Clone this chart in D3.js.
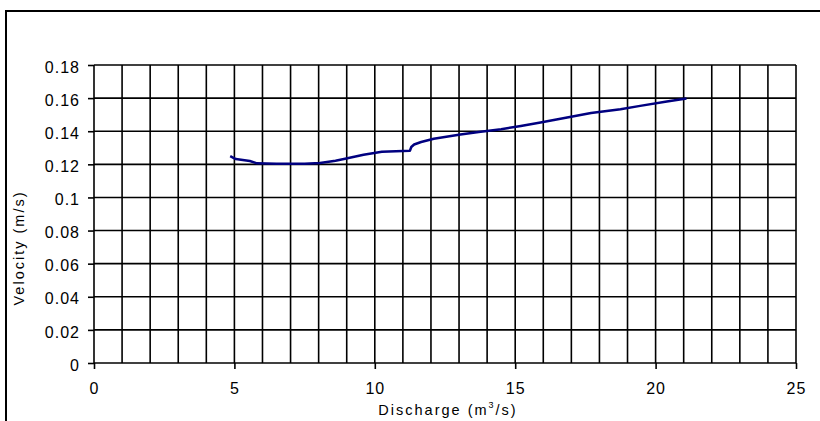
<!DOCTYPE html>
<html>
<head>
<meta charset="utf-8">
<script src="https://cdn.jsdelivr.net/npm/d3@7"></script>
<style>
  body { margin: 0; background: #fff; }
  svg { display: block; }
  text { font-family: "Liberation Sans", Arial, sans-serif; fill: #000; }
</style>
</head>
<body>
<div id="chart"></div>
<script>
// discharge (m3/s) and velocity (m/s)
const discharge = [4.85, 5.05, 5.55, 5.8, 6.5, 7.5, 8.05, 8.6, 8.9, 9.6, 10.25, 11.25, 11.3, 11.4, 11.65, 12.1, 13.05, 13.7, 14.5, 15.2, 15.9, 16.85, 17.7, 18.75, 19.45, 20.4, 21.1];
const velocity = [0.125, 0.1232, 0.122, 0.1206, 0.1204, 0.1204, 0.1208, 0.1222, 0.1232, 0.1258, 0.1276, 0.1282, 0.1305, 0.132, 0.1335, 0.1355, 0.138, 0.1395, 0.1412, 0.1432, 0.1453, 0.1483, 0.151, 0.1533, 0.1553, 0.158, 0.1598];

const xTicks = [0, 5, 10, 15, 20, 25];
const yTicks = [0, 0.02, 0.04, 0.06, 0.08, 0.1, 0.12, 0.14, 0.16, 0.18];
const xTitle = "Discharge (m";
const yTitle = "Velocity (m/s)";

const width = 820, height = 421;
const margin = {top: 65, right: 24, bottom: 58, left: 94};

const x = d3.scaleLinear().domain([0, 25]).range([margin.left, width - margin.right]);
const y = d3.scaleLinear().domain([0, 0.18]).range([height - margin.bottom, margin.top]);

const svg = d3.select("#chart").append("svg")
  .attr("width", width)
  .attr("height", height);

// outer frame (cropped on right and bottom)
svg.append("path")
  .attr("fill", "none")
  .attr("stroke", "#000")
  .attr("stroke-width", 2)
  .attr("d", `M6,${height + 2}V11H${width + 2}`);

// grid
const grid = svg.append("g").attr("stroke", "#000").attr("stroke-width", 1.6);
grid.selectAll("line.v")
  .data(d3.range(0, 26))
  .join("line")
  .attr("class", "v")
  .attr("x1", d => x(d)).attr("x2", d => x(d))
  .attr("y1", y(0)).attr("y2", y(0.18));
grid.selectAll("line.h")
  .data(yTicks)
  .join("line")
  .attr("class", "h")
  .attr("x1", x(0)).attr("x2", x(25))
  .attr("y1", d => y(d)).attr("y2", d => y(d));

// y axis
const yAxis = svg.append("g")
  .attr("transform", `translate(${x(0)},0)`)
  .call(d3.axisLeft(y).tickValues(yTicks).tickSize(6).tickPadding(8).tickFormat(d => String(+d.toFixed(2))));
yAxis.select(".domain").remove();
yAxis.selectAll(".tick line").attr("stroke", "#000").attr("stroke-width", 1.6);
yAxis.selectAll(".tick text")
  .attr("font-size", 16)
  .attr("letter-spacing", "1px")
  .attr("dy", "0.45em")
  .attr("font-family", "Liberation Sans, Arial, sans-serif");

// x axis
const xAxis = svg.append("g")
  .attr("transform", `translate(0,${y(0)})`)
  .call(d3.axisBottom(x).tickValues(xTicks).tickSize(6).tickPadding(14));
xAxis.select(".domain").remove();
xAxis.selectAll(".tick line").attr("stroke", "#000").attr("stroke-width", 1.6);
xAxis.selectAll(".tick text")
  .attr("font-size", 16)
  .attr("letter-spacing", "1px")
  .attr("font-family", "Liberation Sans, Arial, sans-serif");

// axis titles
const xt = svg.append("text")
  .attr("x", 448)
  .attr("y", 415)
  .attr("text-anchor", "middle")
  .attr("font-size", 14.5)
  .attr("letter-spacing", "2px");
xt.append("tspan").text(xTitle);
xt.append("tspan").attr("font-size", 9).attr("dy", -7).text("3");
xt.append("tspan").attr("dy", 7).text("/s)");

svg.append("text")
  .attr("transform", `translate(24,${248}) rotate(-90)`)
  .attr("text-anchor", "middle")
  .attr("font-size", 14.5)
  .attr("letter-spacing", "2px")
  .text(yTitle);

// data line
const line = d3.line()
  .x((d, i) => x(discharge[i]))
  .y(d => y(d));

svg.append("path")
  .datum(velocity)
  .attr("fill", "none")
  .attr("stroke", "#000080")
  .attr("stroke-width", 2.5)
  .attr("stroke-linejoin", "round")
  .attr("d", line);
</script>
</body>
</html>
